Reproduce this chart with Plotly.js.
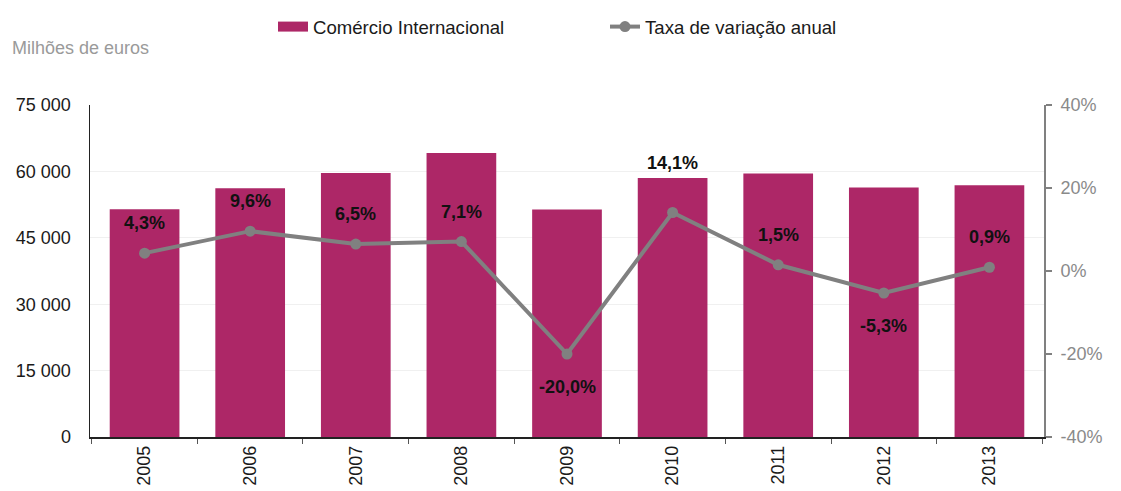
<!DOCTYPE html>
<html>
<head>
<meta charset="utf-8">
<script src="https://cdn.plot.ly/plotly-3.0.1.min.js"></script>
<style>html,body{margin:0;padding:0;background:#fff;}#chart{width:1121px;height:491px;}</style>
</head>
<body>
<div id="chart"></div>
<script>
// Data
var years = ['2005','2006','2007','2008','2009','2010','2011','2012','2013'];
var comercio = [51440, 56180, 59640, 64150, 51370, 58500, 59500, 56340, 56860];
var taxa = [4.3, 9.6, 6.5, 7.1, -20.0, 14.1, 1.5, -5.3, 0.9];
var leftTicks = [0, 15000, 30000, 45000, 60000, 75000];
var leftTickText = ['0', '15 000', '30 000', '45 000', '60 000', '75 000'];
var rightTicks = [-40, -20, 0, 20, 40];
var rightTickText = ['-40%', '-20%', '0%', '20%', '40%'];
var seriesNames = ['Comércio Internacional', 'Taxa de variação anual'];

var FONT = '"Liberation Sans", Arial, sans-serif';
var barColor = '#AD2767';
var lineColor = '#808080';

var mT = 105, mB = 54, H = 491, W = 1121;
var plotH = H - mT - mB;
var yMax = 75000, y2Min = -40, y2Max = 40;

var annotations = [];
for (var i = 0; i < years.length; i++) {
  var barPx = comercio[i] / yMax * plotH;
  var ptPx = (taxa[i] - y2Min) / (y2Max - y2Min) * plotH;
  var shift;
  if (taxa[i] >= 0) {
    shift = 30;
    if (Math.abs(ptPx + shift - barPx) < 10) shift = barPx + 15 - ptPx;
  } else {
    shift = -33;
  }
  annotations.push({
    x: i, y: taxa[i], xref: 'x', yref: 'y2', yshift: shift,
    text: '<b>' + taxa[i].toFixed(1).replace('.', ',') + '%</b>',
    showarrow: false,
    font: {family: FONT, size: 18, color: '#111'}
  });
}
annotations.push({
  xref: 'paper', yref: 'paper', x: -80/954, y: 1 + (105-48)/plotH,
  xanchor: 'left', yanchor: 'middle', showarrow: false,
  text: 'Milhões de euros', font: {family: FONT, size: 18, color: '#9a9a9a'}
});

var traces = [
  {
    type: 'bar', name: seriesNames[0], x: years, y: comercio,
    marker: {color: barColor}, yaxis: 'y', hoverinfo: 'skip', showlegend: false
  },
  {
    // legend swatch for the bars (wide rectangle like the original)
    type: 'scatter', mode: 'lines', name: seriesNames[0], x: [null], y: [null],
    line: {color: barColor, width: 13}, yaxis: 'y', showlegend: true
  },
  {
    type: 'scatter', mode: 'lines+markers', name: seriesNames[1],
    x: years, y: taxa, yaxis: 'y2',
    line: {color: lineColor, width: 4},
    marker: {color: lineColor, size: 11}
  }
];

var layout = {
  width: W, height: H,
  margin: {l: 90, r: 77, t: mT, b: mB},
  paper_bgcolor: '#fff', plot_bgcolor: '#fff',
  bargap: 0.34,
  showlegend: true,
  legend: {
    orientation: 'h', xref: 'container', yref: 'container',
    x: 273/W, xanchor: 'left', y: 1 - 8/H, yanchor: 'top',
    font: {family: FONT, size: 18.6, color: '#1a1a1a'},
    entrywidth: 287, entrywidthmode: 'pixels',
    traceorder: 'normal'
  },
  xaxis: {
    type: 'category', tickangle: -90, tickson: 'boundaries',
    ticks: 'outside', ticklen: 5, tickcolor: '#555',
    showline: true, linecolor: '#222', linewidth: 1.5,
    showgrid: false,
    tickfont: {family: FONT, size: 18, color: '#1a1a1a'}
  },
  yaxis: {
    range: [0, yMax], tickmode: 'array', tickvals: leftTicks, ticktext: leftTickText,
    showline: true, linecolor: '#222', linewidth: 1.5,
    ticks: 'outside', ticklen: 14, tickcolor: 'rgba(0,0,0,0)',
    showgrid: true, gridcolor: '#f0f0f0', gridwidth: 1,
    zeroline: false,
    tickfont: {family: FONT, size: 18, color: '#1a1a1a'}
  },
  yaxis2: {
    overlaying: 'y', side: 'right', range: [y2Min, y2Max],
    tickmode: 'array', tickvals: rightTicks,
    ticktext: rightTickText.map(function (t) { return '\u00a0' + t; }),
    showline: true, linecolor: '#808080', linewidth: 2,
    ticks: 'outside', ticklen: 6, tickcolor: '#808080', tickwidth: 2,
    showgrid: false, zeroline: false,
    tickfont: {family: FONT, size: 18, color: '#8a8a8a'}
  },
  annotations: annotations
};

Plotly.newPlot('chart', traces, layout, {displayModeBar: false, staticPlot: true});
</script>
</body>
</html>
